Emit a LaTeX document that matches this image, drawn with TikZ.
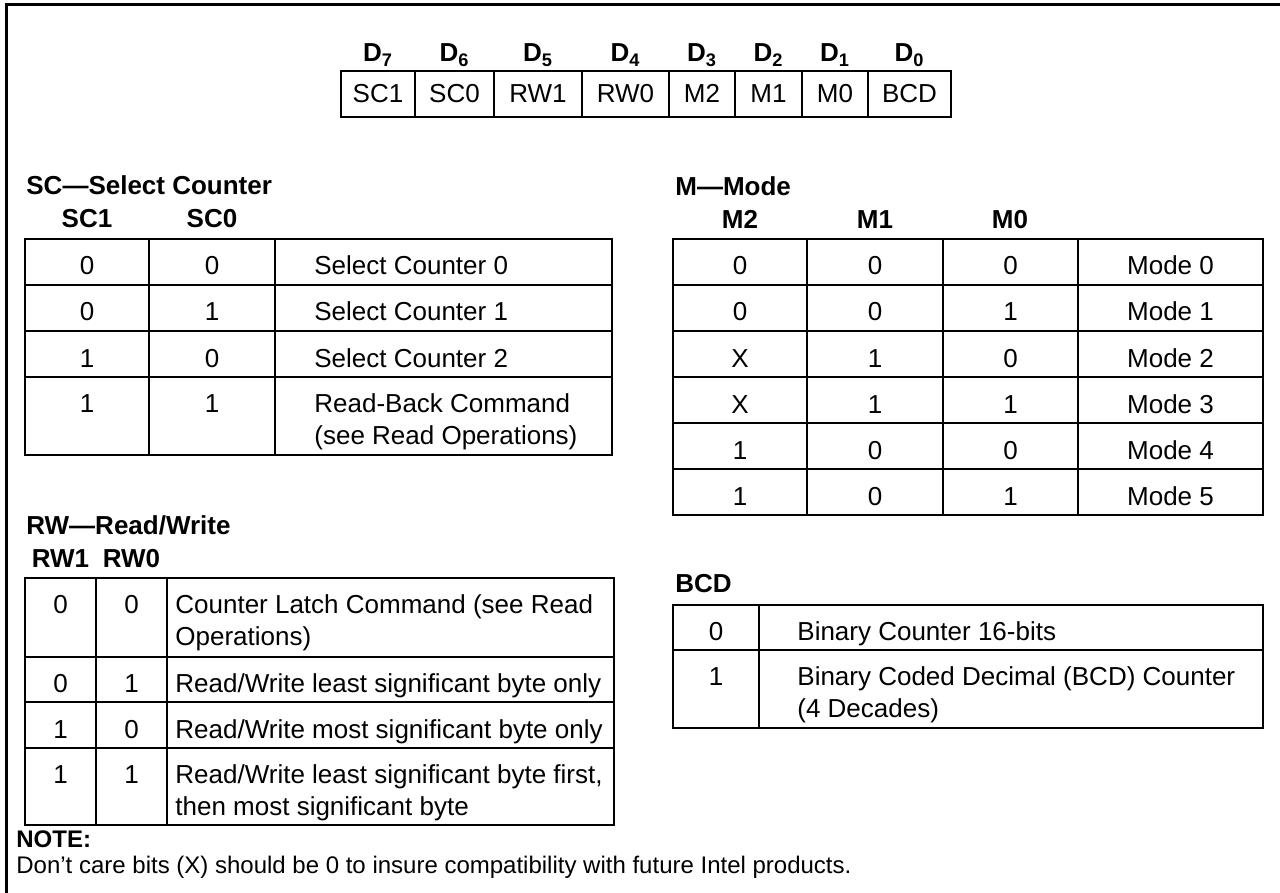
\documentclass[tikz,border=0pt]{standalone}
\usepackage{fontspec}
\setmainfont{Liberation Sans}

\begin{document}
\begin{tikzpicture}[x=0.5pt, y=-0.5pt,
    tabline/.style={line width=1.1pt},
    cellval/.style={font=\fontsize{13}{16}\selectfont, inner sep=0pt, anchor=base},
    celltxt/.style={font=\fontsize{13}{16}\selectfont, inner sep=0pt, anchor=base west},
    celltwo/.style={font=\fontsize{13}{16}\selectfont, inner sep=0pt, anchor=north west, align=left},
    sechead/.style={font=\bfseries\fontsize{13}{16}\selectfont, inner sep=0pt, anchor=base west},
    colhead/.style={font=\bfseries\fontsize{13}{16}\selectfont, inner sep=0pt, anchor=base}]
    \useasboundingbox (0,0) rectangle (1280,893);

    % Draw the frame
    \draw[line width=1.5pt] (6,893) -- (6,5) -- (1280,5);

    % Draw the control word register
    \draw[tabline] (341,71) rectangle (951,117);
    \draw[tabline] (415,71) -- (415,117);
    \draw[tabline] (494,71) -- (494,117);
    \draw[tabline] (582,71) -- (582,117);
    \draw[tabline] (669,71) -- (669,117);
    \draw[tabline] (735,71) -- (735,117);
    \draw[tabline] (802,71) -- (802,117);
    \draw[tabline] (868,71) -- (868,117);

    % Draw the bit labels
    \node[colhead] (d7) at (378,62) {D\textsubscript{7}};
    \node[colhead] (d6) at (454.5,62) {D\textsubscript{6}};
    \node[colhead] (d5) at (538,62) {D\textsubscript{5}};
    \node[colhead] (d4) at (625.5,62) {D\textsubscript{4}};
    \node[colhead] (d3) at (702,62) {D\textsubscript{3}};
    \node[colhead] (d2) at (768.5,62) {D\textsubscript{2}};
    \node[colhead] (d1) at (835,62) {D\textsubscript{1}};
    \node[colhead] (d0) at (909.5,62) {D\textsubscript{0}};
    \node[cellval] (bsc1) at (378,103) {SC1};
    \node[cellval] (bsc0) at (454.5,103) {SC0};
    \node[cellval] (brw1) at (538,103) {RW1};
    \node[cellval] (brw0) at (625.5,103) {RW0};
    \node[cellval] (bm2) at (702,103) {M2};
    \node[cellval] (bm1) at (768.5,103) {M1};
    \node[cellval] (bm0) at (835,103) {M0};
    \node[cellval] (bbcd) at (909.5,103) {BCD};

    % SC -- select counter
    \node[sechead] (schead) at (26,195) {SC—Select Counter};
    \node[colhead] (sc1head) at (87,228) {SC1};
    \node[colhead] (sc0head) at (212,228) {SC0};
    \draw[tabline] (25,239) rectangle (612,455);
    \draw[tabline] (149,239) -- (149,455);
    \draw[tabline] (275,239) -- (275,455);
    \draw[tabline] (25,285) -- (612,285);
    \draw[tabline] (25,331) -- (612,331);
    \draw[tabline] (25,377) -- (612,377);
    \node[cellval] (sca1) at (87,275) {0};
    \node[cellval] (sca0) at (212,275) {0};
    \node[celltxt] (sca) at (314,275) {Select Counter 0};
    \node[cellval] (scb1) at (87,321) {0};
    \node[cellval] (scb0) at (212,321) {1};
    \node[celltxt] (scb) at (314,321) {Select Counter 1};
    \node[cellval] (scc1) at (87,367) {1};
    \node[cellval] (scc0) at (212,367) {0};
    \node[celltxt] (scc) at (314,367) {Select Counter 2};
    \node[cellval] (scd1) at (87,412) {1};
    \node[cellval] (scd0) at (212,412) {1};
    \node[celltwo] (scd) at (314,393.5) {Read-Back Command\\(see Read Operations)};

    % M -- mode
    \node[sechead] (mhead) at (675,196) {M—Mode};
    \node[colhead] (m2head) at (740,229) {M2};
    \node[colhead] (m1head) at (875,229) {M1};
    \node[colhead] (m0head) at (1010,229) {M0};
    \draw[tabline] (673,239) rectangle (1263,515);
    \draw[tabline] (807,239) -- (807,515);
    \draw[tabline] (943,239) -- (943,515);
    \draw[tabline] (1078,239) -- (1078,515);
    \draw[tabline] (673,285) -- (1263,285);
    \draw[tabline] (673,331) -- (1263,331);
    \draw[tabline] (673,377) -- (1263,377);
    \draw[tabline] (673,423) -- (1263,423);
    \draw[tabline] (673,469) -- (1263,469);
    \node[cellval] (ma2) at (740,275) {0};
    \node[cellval] (ma1) at (875,275) {0};
    \node[cellval] (ma0) at (1010.5,275) {0};
    \node[cellval] (ma) at (1170.5,275) {Mode 0};
    \node[cellval] (mb2) at (740,321) {0};
    \node[cellval] (mb1) at (875,321) {0};
    \node[cellval] (mb0) at (1010.5,321) {1};
    \node[cellval] (mb) at (1170.5,321) {Mode 1};
    \node[cellval] (mc2) at (740,367) {X};
    \node[cellval] (mc1) at (875,367) {1};
    \node[cellval] (mc0) at (1010.5,367) {0};
    \node[cellval] (mc) at (1170.5,367) {Mode 2};
    \node[cellval] (md2) at (740,413) {X};
    \node[cellval] (md1) at (875,413) {1};
    \node[cellval] (md0) at (1010.5,413) {1};
    \node[cellval] (md) at (1170.5,413) {Mode 3};
    \node[cellval] (me2) at (740,459) {1};
    \node[cellval] (me1) at (875,459) {0};
    \node[cellval] (me0) at (1010.5,459) {0};
    \node[cellval] (me) at (1170.5,459) {Mode 4};
    \node[cellval] (mf2) at (740,505) {1};
    \node[cellval] (mf1) at (875,505) {0};
    \node[cellval] (mf0) at (1010.5,505) {1};
    \node[cellval] (mf) at (1170.5,505) {Mode 5};

    % RW -- read/write
    \node[sechead] (rwhead) at (26,534) {RW—Read/Write};
    \node[colhead] (rw1head) at (60.5,567) {RW1};
    \node[colhead] (rw0head) at (131.5,567) {RW0};
    \draw[tabline] (25,578) rectangle (614,825);
    \draw[tabline] (96,578) -- (96,825);
    \draw[tabline] (167,578) -- (167,825);
    \draw[tabline] (25,657) -- (614,657);
    \draw[tabline] (25,702) -- (614,702);
    \draw[tabline] (25,748) -- (614,748);
    \node[cellval] (rwa1) at (60.5,613) {0};
    \node[cellval] (rwa0) at (131.5,613) {0};
    \node[celltwo] (rwa) at (175,594.5) {Counter Latch Command (see Read\\Operations)};
    \node[cellval] (rwb1) at (60.5,692.5) {0};
    \node[cellval] (rwb0) at (131.5,692.5) {1};
    \node[celltxt] (rwb) at (175,692.5) {Read/Write least significant byte only};
    \node[cellval] (rwc1) at (60.5,738) {1};
    \node[cellval] (rwc0) at (131.5,738) {0};
    \node[celltxt] (rwc) at (175,738) {Read/Write most significant byte only};
    \node[cellval] (rwd1) at (60.5,783) {1};
    \node[cellval] (rwd0) at (131.5,783) {1};
    \node[celltwo] (rwd) at (175,764.5) {Read/Write least significant byte first,\\then most significant byte};

    % BCD
    \node[sechead] (bcdhead) at (675,592) {BCD};
    \draw[tabline] (673,605) rectangle (1263,728);
    \draw[tabline] (759,605) -- (759,728);
    \draw[tabline] (673,650) -- (1263,650);
    \node[cellval] (bcda0) at (716,640.5) {0};
    \node[celltxt] (bcda) at (797,640.5) {Binary Counter 16-bits};
    \node[cellval] (bcdb0) at (716,685) {1};
    \node[celltwo] (bcdb) at (797,666.5) {Binary Coded Decimal (BCD) Counter\\(4 Decades)};

    % Note
    \node[font=\bfseries\fontsize{12}{15}\selectfont, inner sep=0pt, anchor=base west] (notehead) at (16,847) {NOTE:};
    \node[font=\fontsize{12}{15}\selectfont, inner sep=0pt, anchor=base west] (notetext) at (16,873) {Don't care bits (X) should be 0 to insure compatibility with future Intel products.};
\end{tikzpicture}
\end{document}
